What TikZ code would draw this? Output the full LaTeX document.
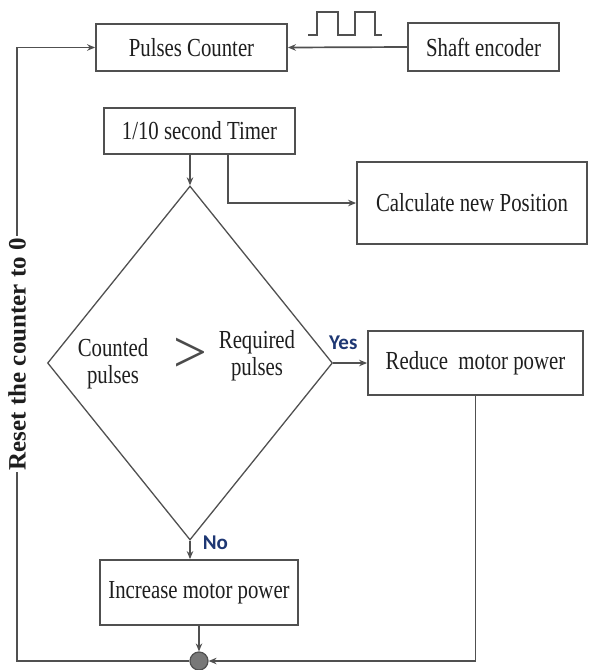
\documentclass[tikz,border=0pt]{standalone}
\usepackage{xcolor}
\usepackage{fontspec}
\usepackage{tikz}
\setmainfont{Liberation Serif}
\newfontfamily\boxfont[FakeStretch=0.8]{Liberation Serif}
\newfontfamily\lblfont{Carlito}
\definecolor{linegray}{RGB}{80,80,80}
\definecolor{textgray}{RGB}{30,30,30}
\definecolor{labelblue}{RGB}{30,55,115}
\definecolor{joingray}{RGB}{120,120,120}
\usetikzlibrary{shapes,arrows.meta,calc}

\begin{document}
\begin{tikzpicture}[
    x=1pt, y=-1pt,
    block/.style={rectangle, draw=linegray, line width=1.8pt, text=textgray, font=\boxfont\fontsize{26}{30}\selectfont, inner sep=0pt},
    decision/.style={diamond, draw=linegray, line width=1.3pt, inner sep=0pt, aspect=0.8},
    inside/.style={text=textgray, font=\boxfont\fontsize{26}{27}\selectfont, align=center, inner sep=0pt},
    answer/.style={text=labelblue, font=\lblfont\bfseries\fontsize{21}{21}\selectfont, inner sep=0pt},
    arrow/.style={-{Stealth[length=8pt,width=6.5pt]},draw=linegray,line width=1.7pt}
]

\useasboundingbox (0,0) rectangle (591,670);

\node[block, minimum width=191pt, minimum height=47pt] (counter) at (191.5,47.5) {Pulses Counter};
\node[block, minimum width=151pt, minimum height=48pt] (encoder) at (483.5,47) {Shaft encoder};
\node[block, minimum width=191pt, minimum height=46pt] (timer) at (199.5,131) {1/10 second Timer};
\node[block, minimum width=230pt, minimum height=82pt] (calc) at (472,203) {Calculate new Position};
\node[decision, minimum width=285pt, minimum height=354pt] (compare) at (190,363) {};
\node[inside] (counted) at (113,364) {Counted\\pulses};
\node[text=textgray!80, inner sep=0pt, font=\fontsize{60}{60}\selectfont] (greater) at (190,355) {>};
\node[inside] (required) at (257,356) {Required\\pulses};
\node[block, minimum width=215pt, minimum height=64pt] (reduce) at (475.5,363) {Reduce~ motor power};
\node[block, minimum width=198pt, minimum height=65pt] (increase) at (199,592.5) {Increase motor power};
\node[circle, draw=linegray, fill=joingray, line width=1.2pt, minimum size=18pt, inner sep=0pt] (join) at (199,661) {};
\coordinate (corner) at (17,661);

\draw[linegray, line width=1.6pt] (308,35) -- (317,35) -- (317,12) -- (338,12) -- (338,35) -- (355,35) -- (355,12) -- (375,12) -- (375,35) -- (382,35);

\draw[arrow] (encoder.west) -- (counter.east);
\draw[arrow] (timer.south -| compare.north) -- (compare.north);
\draw[arrow] ([xshift=28.5pt]timer.south) |- (calc.west);
\draw[arrow] (compare.east) -- node[answer, above, yshift=13pt, pos=0.3] {Yes} (reduce.west);
\draw[arrow] (compare.south) -- node[answer, right, xshift=12pt, pos=0.1] {No} (compare.south |- increase.north);
\draw[arrow] (increase.south -| join.north) -- (join.north);
\draw[arrow] (reduce.south) |- (join.east);
\draw[arrow] (join.west) -- (corner) |- node[pos=0.25, rotate=90, fill=white, inner sep=2pt, text=textgray, font=\bfseries\fontsize{25}{25}\selectfont] {Reset the counter to 0} (counter.west);

\end{tikzpicture}
\end{document}
